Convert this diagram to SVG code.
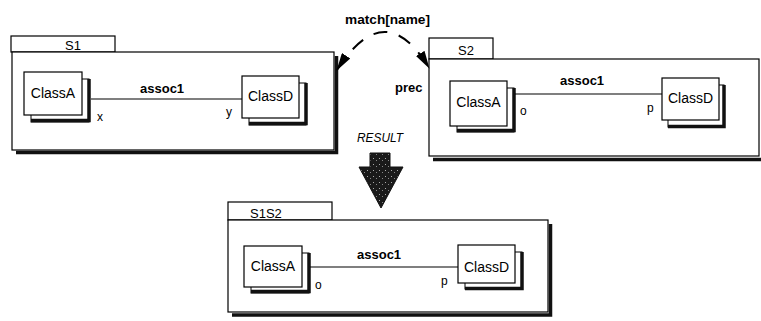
<svg xmlns="http://www.w3.org/2000/svg" width="761" height="321" viewBox="0 0 761 321">
<style>
  .box{fill:#fff;stroke:#000;stroke-width:1.2}
  .shd{fill:none;stroke:#111;stroke-width:3.5}
  .shdt{fill:#fff;stroke:#000;stroke-width:1}
  .t{font-family:"Liberation Sans",Arial,sans-serif;font-size:13px;fill:#000}
  .cn{font-size:14px}
  .b{font-weight:bold}
  .s{font-size:12px}
  .c{text-anchor:middle}
  .ln{fill:none;stroke:#000;stroke-width:1.2}
</style>
<defs>
  <marker id="ah" viewBox="0 0 18 10" refX="17" refY="5" markerWidth="18" markerHeight="10" markerUnits="userSpaceOnUse" orient="auto-start-reverse">
    <path d="M0,0 L18,5 L0,10 Z" fill="#000"/>
  </marker>
  <pattern id="spk" width="6" height="6" patternUnits="userSpaceOnUse">
    <rect width="6" height="6" fill="#1a1a1a"/>
    <rect x="1" y="2" width="1" height="1" fill="#aaa"/>
    <rect x="4" y="4" width="1" height="1" fill="#888"/>
  </pattern>
</defs>

<!-- Package S1 -->
<g id="S1">
  <path class="shd" d="M336.5,56 V152.5 H16"/>
  <rect class="box" x="11" y="36" width="104" height="16"/>
  <rect class="box" x="12" y="52" width="322" height="98"/>
  <text class="t" x="65" y="50">S1</text>
</g>
<g id="S1_ClassA">
  <rect class="shdt" x="31" y="79" width="58" height="43"/>
  <path class="shd" d="M89,79 V120.5 H31"/>
  <rect class="box" x="24" y="72" width="58" height="43"/>
  <text class="t cn c" x="53" y="98">ClassA</text>
</g>
<g id="S1_ClassD">
  <rect class="shdt" x="249" y="83" width="57" height="42"/>
  <path class="shd" d="M306,83 V123.5 H249"/>
  <rect class="box" x="242" y="76" width="57" height="42"/>
  <text class="t cn c" x="270.5" y="101">ClassD</text>
</g>

<!-- Package S2 -->
<g id="S2">
  <path class="shd" d="M433,159.5 H765"/>
  <rect class="box" x="429" y="38" width="64" height="21"/>
  <rect class="box" x="429" y="59" width="330" height="97"/>
  <text class="t" x="458" y="55">S2</text>
</g>
<g id="S2_ClassA">
  <rect class="shdt" x="457" y="88" width="57" height="44"/>
  <path class="shd" d="M514,88 V130.5 H457"/>
  <rect class="box" x="450" y="81" width="57" height="45"/>
  <text class="t cn c" x="478.5" y="107">ClassA</text>
</g>
<g id="S2_ClassD">
  <rect class="shdt" x="668" y="85" width="56" height="42"/>
  <path class="shd" d="M724,85 V126.5 H668"/>
  <rect class="box" x="662" y="78" width="57" height="42"/>
  <text class="t cn c" x="690.5" y="103">ClassD</text>
</g>

<!-- Package S1S2 -->
<g id="S1S2">
  <path class="shd" d="M550.5,224 V315 H232"/>
  <rect class="box" x="228" y="202" width="104" height="18"/>
  <rect class="box" x="228" y="220" width="320" height="92"/>
  <text class="t" x="250" y="218">S1S2</text>
</g>
<g id="S1S2_ClassA">
  <rect class="shdt" x="251" y="253" width="58" height="40"/>
  <path class="shd" d="M309,253 V291.5 H251"/>
  <rect class="box" x="244" y="246" width="58" height="41"/>
  <text class="t cn c" x="273" y="271">ClassA</text>
</g>
<g id="S1S2_ClassD">
  <rect class="shdt" x="465" y="252" width="57" height="37"/>
  <path class="shd" d="M522,252 V288.5 H465"/>
  <rect class="box" x="458" y="245" width="57" height="38"/>
  <text class="t cn c" x="486.5" y="272">ClassD</text>
</g>

<!-- Connectors -->
<g id="connectors">
  <path class="ln" d="M91,99 H242"/>
  <path class="ln" d="M515,94 H662"/>
  <path class="ln" d="M310,267 H458"/>
  <path d="M337,70 Q385,-5 429,68" fill="none" stroke="#000" stroke-width="2" stroke-dasharray="14 12" marker-start="url(#ah)" marker-end="url(#ah)"/>
  <polygon points="370,153 390,153 390,167 403,167 381,208 359,167 370,167" fill="url(#spk)" stroke="#111" stroke-width="1"/>
</g>

<!-- Labels -->
<g id="labels">
  <text class="t b" x="140" y="93">assoc1</text>
  <text class="t s" x="97" y="121">x</text>
  <text class="t s" x="226" y="116">y</text>
  <text class="t b" x="560" y="85">assoc1</text>
  <text class="t s" x="520" y="115">o</text>
  <text class="t s" x="647" y="112">p</text>
  <text class="t b" x="357" y="259">assoc1</text>
  <text class="t s" x="315" y="289">o</text>
  <text class="t s" x="441" y="285">p</text>
  <text class="t b" x="395" y="92">prec</text>
  <text class="t b" x="345" y="24" textLength="85" lengthAdjust="spacingAndGlyphs">match[name]</text>
  <text class="t" x="357" y="142" font-style="italic" font-size="11" textLength="46" lengthAdjust="spacingAndGlyphs">RESULT</text>
</g>
</svg>
